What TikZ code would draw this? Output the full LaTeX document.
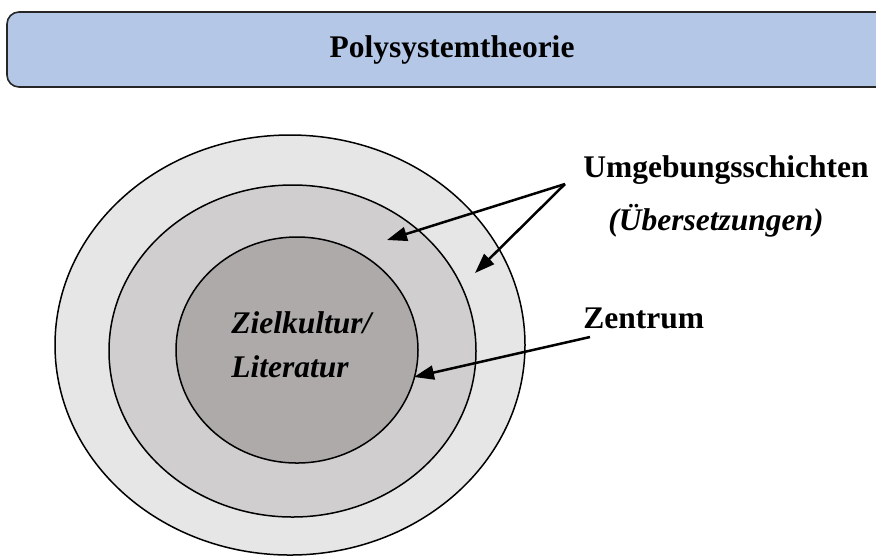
\documentclass[tikz,border=0pt]{standalone}
\usepackage{fontspec}
\setmainfont{Liberation Serif}
\usetikzlibrary{arrows.meta}
\definecolor{titlefill}{HTML}{B4C7E7}
\definecolor{ringA}{HTML}{E7E6E6}
\definecolor{ringB}{HTML}{D0CECE}
\definecolor{ringC}{HTML}{AEAAAA}
\tikzset{
  ring/.style={draw=black, line width=0.75pt},
  lbl/.style={font=\fontsize{15.75}{19}\selectfont\bfseries, inner sep=0pt, anchor=base west},
  pointer/.style={line width=1.25pt, -{Triangle[length=10pt,width=7pt]}},
}
\begin{document}
\begin{tikzpicture}[x=0.5pt,y=-0.5pt]
\useasboundingbox (0,0) rectangle (876,559);
% title bar
\draw[fill=titlefill, draw=black!85, line width=0.8pt, rounded corners=6pt] (7,12) rectangle (900,87);
\node[font=\fontsize{15.75}{19}\selectfont\bfseries, inner sep=0pt] (title) at (452,50) {Polysystemtheorie};
% rings
\filldraw[ring, fill=ringA] (290,345) ellipse [x radius=235, y radius=210];
\filldraw[ring, fill=ringB] (292.5,351) ellipse [x radius=183.5, y radius=166];
\filldraw[ring, fill=ringC] (297,350) ellipse [x radius=121, y radius=113];
% centre text
\node[lbl, font=\fontsize{15.75}{19}\selectfont\bfseries\itshape] (ziel) at (231,333) {Zielkultur/};
\node[lbl, font=\fontsize{15.75}{19}\selectfont\bfseries\itshape] (lit) at (231,377) {Literatur};
% labels
\node[lbl] (umg) at (583,177) {Umgebungsschichten};
\node[lbl, font=\fontsize{15.75}{19}\selectfont\bfseries\itshape] (ueb) at (608,230) {(Übersetzungen)};
\node[lbl] (zen) at (583,328) {Zentrum};
% arrows
\coordinate (apex) at (565,184);
\coordinate (tipB) at (387,240);
\coordinate (tipA) at (475,273);
\coordinate (zstart) at (590,337);
\coordinate (tipC) at (414,377);
\draw[pointer] (apex) -- (tipB);
\draw[pointer] (apex) -- (tipA);
\draw[pointer] (zstart) -- (tipC);
\end{tikzpicture}
\end{document}
